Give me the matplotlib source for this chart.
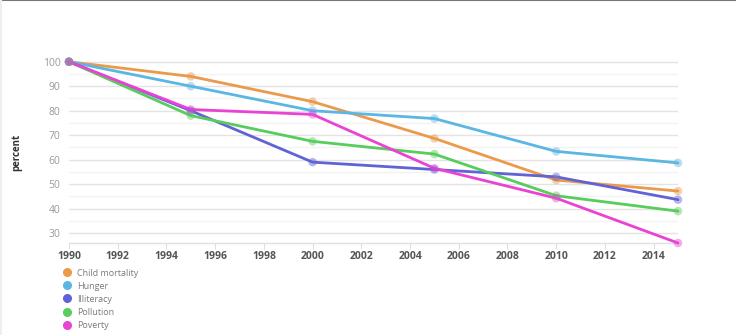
import matplotlib
matplotlib.use('Agg')
import matplotlib.pyplot as plt
from matplotlib.lines import Line2D
from matplotlib.ticker import MultipleLocator

plt.rcParams['font.family'] = ['Open Sans', 'DejaVu Sans']

# data
years = [1990, 1995, 2000, 2005, 2010, 2015]
series_names = ['Child mortality', 'Hunger', 'Illiteracy', 'Pollution', 'Poverty']
child_mortality = [100, 94, 83.7, 68.7, 51.7, 47.2]
hunger = [100, 90, 80, 76.8, 63.4, 58.7]
illiteracy = [100, 80, 59, 56, 53, 43.7]
pollution = [100, 78, 67.5, 62.3, 45.3, 39]
poverty = [100, 80.5, 78.5, 56.5, 44.3, 26]
colors = ['#eb9a4c', '#5bb6e4', '#5f63d6', '#58cc5c', '#ea42d4']

fig = plt.figure(figsize=(7.36, 3.35), dpi=100)
ax = fig.add_axes([69 / 736, 1 - 243 / 335, (678 - 69) / 736, (243 - 61) / 335])

all_series = [child_mortality, hunger, illiteracy, pollution, poverty]
for vals, col in zip(all_series, colors):
    ax.plot(years, vals, color=col, lw=2.0, zorder=3, solid_capstyle='round', clip_on=False)
    ax.scatter(years, vals, s=38, color=col, alpha=0.45, edgecolors='none', zorder=4, clip_on=False)

ax.set_xlim(1990, 2015)
ax.set_ylim(26, 100.3)
ax.xaxis.set_major_locator(MultipleLocator(2))
ax.yaxis.set_major_locator(MultipleLocator(10))
ax.yaxis.set_minor_locator(MultipleLocator(5))
ax.set_yticks(range(30, 101, 10))

ax.grid(axis='y', which='major', color='#e3e3e3', lw=1.0, zorder=0)
ax.grid(axis='y', which='minor', color='#f3f3f3', lw=1.0, zorder=0)
for s in ['top', 'right', 'left']:
    ax.spines[s].set_visible(False)
ax.spines['bottom'].set_color('#e0e0e0')
ax.spines['bottom'].set_linewidth(1.0)

ax.tick_params(axis='y', which='both', length=0, labelsize=7.5, labelcolor='#9a9a9a', pad=6)
ax.tick_params(axis='x', length=4, color='#e0e0e0', labelsize=7.5, labelcolor='#555555', pad=2)
for lbl in ax.get_xticklabels():
    lbl.set_fontweight('bold')

fig.text(17 / 736, 1 - 152 / 335, 'percent', rotation=90, ha='center', va='center',
         fontsize=7, fontweight='bold', color='#333333')

handles = [Line2D([], [], marker='o', ls='', color=c, markersize=5.5) for c in colors]
fig.legend(handles, series_names, loc='upper left', bbox_to_anchor=(57 / 736, 1 - 264 / 335),
           frameon=False, fontsize=6.5, labelcolor='#7a7a7a', handletextpad=0.5,
           labelspacing=0.45, borderpad=0, handlelength=1.2)

# frame lines seen on the screenshot edges
fig.add_artist(Line2D([0, 1], [0.999, 0.999], color='#777777', lw=1.5))
fig.add_artist(Line2D([0.001, 0.001], [0, 1], color='#eeeeee', lw=1.5))

fig.savefig('out.png', dpi=100)
